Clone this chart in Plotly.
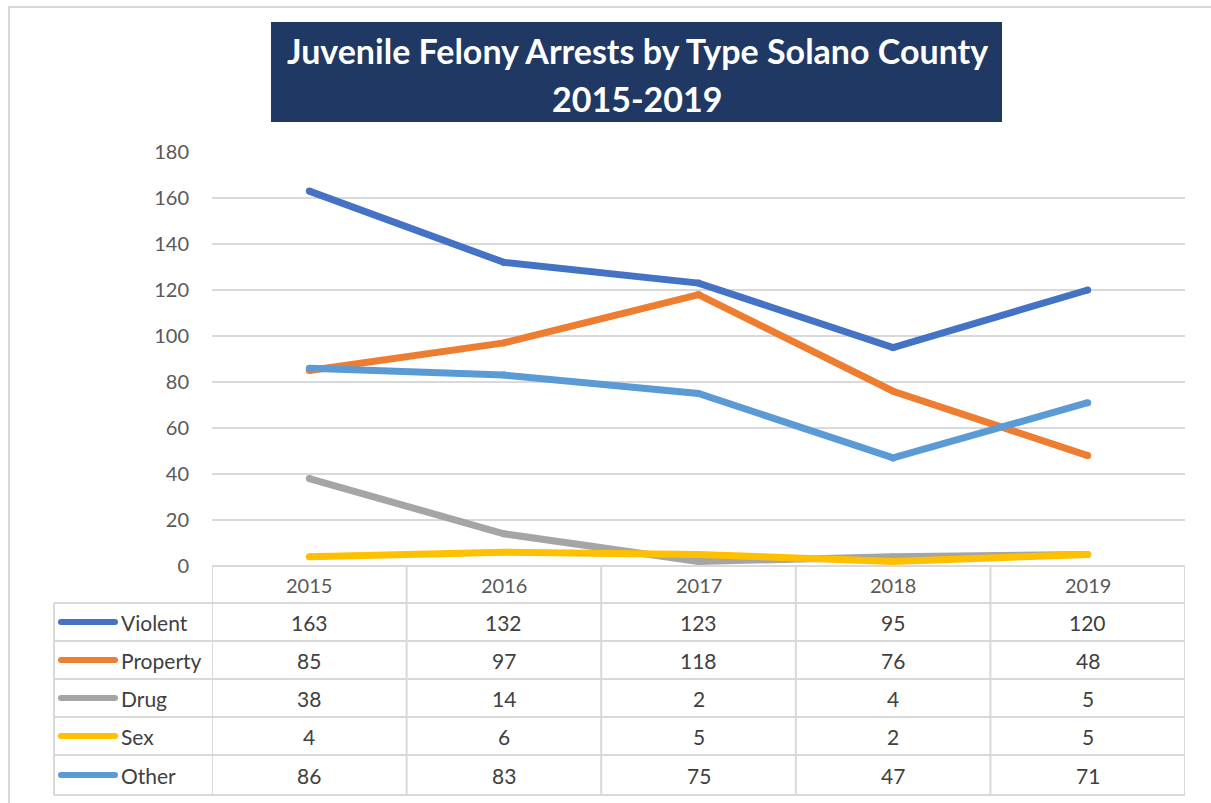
import plotly.graph_objects as go

W, H = 1211, 803

# ---- data -------------------------------------------------------------
years = ["2015", "2016", "2017", "2018", "2019"]
series_names = ["Violent", "Property", "Drug", "Sex", "Other"]
violent = [163, 132, 123, 95, 120]
property_ = [85, 97, 118, 76, 48]
drug = [38, 14, 2, 4, 5]
sex = [4, 6, 5, 2, 5]
other = [86, 83, 75, 47, 71]
colors = ["#4472C4", "#ED7D31", "#A5A5A5", "#FFC000", "#5B9BD5"]
y_ticks = [0, 20, 40, 60, 80, 100, 120, 140, 160, 180]

title_1 = "Juvenile Felony Arrests by Type Solano County"
title_2 = "2015-2019"

FONT = "Lato, 'Open Sans', sans-serif"
TEXT = "#595959"
CELL_TEXT = "#404040"
GRID = "#D9D9D9"


def px(x):
    return x / W


def py(y):
    return 1 - y / H


# plot area in pixels
PL, PR, PT, PB = 212, 1185, 152, 566
ROW_EDGES = [603, 641, 679, 717, 755, 795]
TABLE_L = 54

fig = go.Figure()

all_series = [violent, property_, drug, sex, other]
for name, vals, col in zip(series_names, all_series, colors):
    fig.add_trace(go.Scatter(
        x=list(range(len(years))), y=vals, name=name,
        mode="lines+markers",
        line=dict(color=col, width=7),
        marker=dict(color=col, size=7),
        hovertemplate=name + ": %{y}<extra></extra>",
        cliponaxis=False,
    ))

fig.update_xaxes(
    range=[-0.5, len(years) - 0.5],
    domain=[px(PL), px(PR)],
    showgrid=False, showticklabels=False, zeroline=False,
    showline=False, fixedrange=True, automargin=False,
)
fig.update_yaxes(
    range=[0, 180], domain=[py(PB), py(PT)],
    tickvals=y_ticks, showgrid=True, gridcolor=GRID, gridwidth=2,
    zeroline=False, showline=False, ticks="",
    ticklabelstandoff=22, automargin=False,
    tickfont=dict(family=FONT, size=20, color=TEXT),
    fixedrange=True,
)

shapes = []
# outer frame
shapes.append(dict(type="rect", xref="paper", yref="paper",
                   x0=px(9), x1=px(1220), y0=py(7), y1=py(812),
                   line=dict(color=GRID, width=2), layer="below"))
# title banner
shapes.append(dict(type="rect", xref="paper", yref="paper",
                   x0=px(271), x1=px(1002), y0=py(22), y1=py(122),
                   fillcolor="#203864", line=dict(width=0)))

# table: horizontal lines
shapes.append(dict(type="line", xref="paper", yref="paper",
                   x0=px(PL), x1=px(PR), y0=py(PB), y1=py(PB),
                   line=dict(color=GRID, width=2)))
for ry in ROW_EDGES:
    shapes.append(dict(type="line", xref="paper", yref="paper",
                       x0=px(TABLE_L), x1=px(PR), y0=py(ry), y1=py(ry),
                       line=dict(color=GRID, width=2)))
# table: vertical lines
shapes.append(dict(type="line", xref="paper", yref="paper",
                   x0=px(TABLE_L), x1=px(TABLE_L),
                   y0=py(ROW_EDGES[0]), y1=py(ROW_EDGES[-1]),
                   line=dict(color=GRID, width=2)))
for i in range(len(years) + 1):
    shapes.append(dict(type="line", xref="x", yref="paper",
                       x0=i - 0.5, x1=i - 0.5,
                       y0=py(PB), y1=py(ROW_EDGES[-1]),
                       line=dict(color=GRID, width=2)))

annotations = []
annotations.append(dict(x=px(637), y=py(50), xref="paper", yref="paper",
                        text=f"<b>{title_1}</b>", showarrow=False,
                        font=dict(family=FONT, size=34, color="white"),
                        xanchor="center", yanchor="middle"))
annotations.append(dict(x=px(637), y=py(98), xref="paper", yref="paper",
                        text=f"<b>{title_2}</b>", showarrow=False,
                        font=dict(family=FONT, size=34, color="white"),
                        xanchor="center", yanchor="middle"))

# header years
for i, yr in enumerate(years):
    annotations.append(dict(x=i, y=py((PB + ROW_EDGES[0]) / 2),
                            xref="x", yref="paper", text=yr, showarrow=False,
                            font=dict(family=FONT, size=20, color=TEXT),
                            xanchor="center", yanchor="middle"))

# rows: legend key, label, values
for r, (name, vals, col) in enumerate(zip(series_names, all_series, colors)):
    cy = (ROW_EDGES[r] + ROW_EDGES[r + 1]) / 2
    shapes.append(dict(type="line", xref="paper", yref="paper",
                       x0=px(61), x1=px(115), y0=py(cy), y1=py(cy),
                       line=dict(color=col, width=6)))
    for ex in (61, 115):
        shapes.append(dict(type="circle", xref="paper", yref="paper",
                           xsizemode="pixel", ysizemode="pixel",
                           xanchor=px(ex), yanchor=py(cy),
                           x0=-3, x1=3, y0=-3, y1=3,
                           fillcolor=col, line=dict(width=0)))
    annotations.append(dict(x=px(119), y=py(cy), xref="paper", yref="paper",
                            text=name, showarrow=False,
                            font=dict(family=FONT, size=21, color=CELL_TEXT),
                            xanchor="left", yanchor="middle"))
    for i, v in enumerate(vals):
        annotations.append(dict(x=i, y=py(cy), xref="x", yref="paper",
                                text=str(v), showarrow=False,
                                font=dict(family=FONT, size=21, color=CELL_TEXT),
                                xanchor="center", yanchor="middle"))

fig.update_layout(
    width=W, height=H,
    margin=dict(l=0, r=0, t=0, b=0, pad=0, autoexpand=False),
    paper_bgcolor="white", plot_bgcolor="white",
    showlegend=False,
    shapes=shapes, annotations=annotations,
)

# drop the browser's default body margin so the figure sits at the page origin
fig.write_html("out.html", config={"displayModeBar": False},
               post_script="document.body.style.margin='0';")
